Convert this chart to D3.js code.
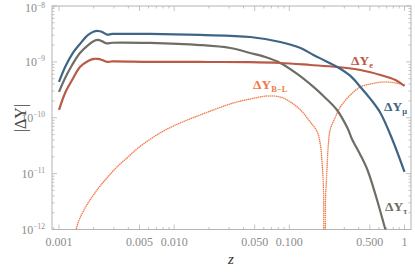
<!DOCTYPE html>
<html><head><meta charset="utf-8">
<script src="https://cdn.jsdelivr.net/npm/d3@7"></script>
<style>body{margin:0;background:#fff}</style>
</head><body>
<svg id="c" width="415" height="272"></svg>
<script>
// ---- data ----
const zMu  = [0.001,0.00113,0.0013,0.00152,0.00179,0.00201,0.00218,0.00237,0.00261,0.00289,0.00339,0.00618,0.0168,0.0458,0.0835,0.125,0.162,0.206,0.261,0.339,0.414,0.506,0.618,0.787,1.0];
const yMu  = [4.37e-10,8.1e-10,1.38e-9,2.09e-9,3.03e-9,3.5e-9,3.57e-9,3.43e-9,3.08e-9,3.16e-9,3.16e-9,3.16e-9,3.03e-9,2.79e-9,2.27e-9,1.77e-9,1.33e-9,1.04e-9,8.1e-10,5.6e-10,3.56e-10,2.17e-10,1.22e-10,4.0e-11,1.07e-11];
const zTau = [0.001,0.00113,0.0013,0.00152,0.00179,0.00201,0.00218,0.00237,0.00261,0.00289,0.00618,0.0168,0.0307,0.0458,0.0618,0.0835,0.117,0.162,0.206,0.261,0.319,0.353,0.414,0.477,0.571,0.684,0.726];
const yTau = [2.9e-10,5.15e-10,8.8e-10,1.44e-9,2.0e-9,2.37e-9,2.47e-9,2.33e-9,2.14e-9,2.2e-9,2.18e-9,2.0e-9,1.77e-9,1.44e-9,1.22e-9,9.55e-10,6.08e-10,3.56e-10,2.26e-10,1.35e-10,6.6e-11,4.0e-11,2.16e-11,1.16e-11,3.67e-12,9.8e-13,6.5e-13];
const zE   = [0.001,0.00113,0.0013,0.00152,0.00179,0.00201,0.00218,0.00237,0.00261,0.00289,0.00618,0.0168,0.0458,0.0835,0.152,0.261,0.414,0.618,0.835,1.0];
const yE   = [1.38e-10,2.78e-10,4.74e-10,8.1e-10,1.04e-9,1.13e-9,1.13e-9,1.08e-9,1.0e-9,1.02e-9,1.0e-9,9.96e-10,9.9e-10,9.55e-10,8.8e-10,8.1e-10,7.16e-10,5.83e-10,4.74e-10,3.7e-10];
const zBL  = [0.00138,0.00141,0.00152,0.00179,0.00214,0.00261,0.00319,0.00398,0.00486,0.00755,0.01128,0.0168,0.0326,0.0458,0.0644,0.0835,0.102,0.125,0.152,0.175,0.186,0.193,0.198,0.2015,0.2025,0.206,0.210,0.214,0.218,0.226,0.251,0.277,0.339,0.414,0.506,0.657,0.835,1.0];
const yBL  = [7e-13,1.0e-12,1.61e-12,2.99e-12,5.1e-12,8.4e-12,1.32e-11,1.99e-11,2.88e-11,5.35e-11,8.07e-11,1.12e-10,1.84e-10,2.17e-10,2.45e-10,2.35e-10,1.92e-10,1.38e-10,8.4e-11,5.57e-11,3.26e-11,1.43e-11,5.1e-12,1e-13,1e-13,3.5e-12,7.7e-12,1.76e-11,3.26e-11,6.05e-11,1.03e-10,1.56e-10,2.56e-10,3.56e-10,4.02e-10,4.37e-10,4.2e-10,3.86e-10];
const xMajor = [0.001,0.005,0.01,0.05,0.1,0.5,1];
const xMajorLabels = ["0.001","0.005","0.010","0.050","0.100","0.500","1"];
const yMajor = [1e-12,1e-11,1e-10,1e-9,1e-8];
const yMajorExp = ["-12","-11","-10","-9","-8"];

// ---- layout ----
const L=52,R=411,T=6,B=229.5;
const x=d3.scaleLog().domain([Math.pow(10,-3.0608),Math.pow(10,0.0564)]).range([L,R]);
const y=d3.scaleLog().domain([1e-12,1e-8]).range([B,T]);
const svg=d3.select("#c");
const axCol="#b4b4b4", txtCol="#8c8c8c";
const serif="'Liberation Serif','DejaVu Serif',serif";

svg.append("defs").append("clipPath").attr("id","clip")
  .append("rect").attr("x",L).attr("y",T).attr("width",R-L).attr("height",B-T);

// frame
svg.append("rect").attr("x",L).attr("y",T).attr("width",R-L).attr("height",B-T)
  .attr("fill","none").attr("stroke",axCol).attr("stroke-width",1);

// minor ticks
const xMinor=[];
for(let d=-4;d<=0;d++)for(let k=1;k<=9;k++){const v=k*Math.pow(10,d);
  if(v>=x.domain()[0]&&v<=x.domain()[1]&&!xMajor.some(m=>Math.abs(m-v)/v<1e-6))xMinor.push(v);}
const yMinor=[];
for(let d=-12;d<=-9;d++)for(let k=2;k<=9;k++)yMinor.push(k*Math.pow(10,d));

const tk=svg.append("g").attr("stroke",axCol).attr("stroke-width",0.8);
function xt(vals,len){vals.forEach(v=>{const px=x(v);
  tk.append("line").attr("x1",px).attr("x2",px).attr("y1",B).attr("y2",B-len);
  tk.append("line").attr("x1",px).attr("x2",px).attr("y1",T).attr("y2",T+len);});}
function yt(vals,len){vals.forEach(v=>{const py=y(v);
  tk.append("line").attr("y1",py).attr("y2",py).attr("x1",L).attr("x2",L+len);
  tk.append("line").attr("y1",py).attr("y2",py).attr("x1",R).attr("x2",R-len);});}
xt(xMinor,2.5); xt(xMajor,5); yt(yMinor,2.5); yt(yMajor,5);

// tick labels
xMajor.forEach((v,i)=>{
  svg.append("text").attr("x",x(v)).attr("y",246).attr("text-anchor","middle")
   .attr("font-family",serif).attr("font-size",12).attr("fill",txtCol).text(xMajorLabels[i]);
});
yMajor.forEach((v,i)=>{
  const t=svg.append("text").attr("x",45).attr("y",Math.max(y(v)+4,12)).attr("text-anchor","end")
   .attr("font-family",serif).attr("font-size",12).attr("fill",txtCol);
  t.append("tspan").text("10");
  t.append("tspan").attr("dy",-4.5).attr("font-size",7.5).text(yMajorExp[i].replace("-","\u2212"));
});

// axis titles
svg.append("text").attr("transform","translate(26,118) rotate(-90)").attr("text-anchor","middle")
  .attr("font-family",serif).attr("font-size",16).attr("fill","#444").text("|\u0394Y|");
svg.append("text").attr("x",231).attr("y",264).attr("text-anchor","middle")
  .attr("font-family",serif).attr("font-style","italic").attr("font-size",15).attr("fill","#333").text("z");

// curves
const line=d3.line().x(d=>x(d[0])).y(d=>y(d[1])).curve(d3.curveCatmullRom.alpha(0.5));
const g=svg.append("g").attr("clip-path","url(#clip)");
function draw(zs,ys,col,w,dash){
  g.append("path").datum(zs.map((z,i)=>[z,ys[i]])).attr("d",line)
   .attr("fill","none").attr("stroke",col).attr("stroke-width",w)
   .attr("stroke-dasharray",dash||null).attr("stroke-linecap",dash?"round":"butt");
}
const cMu="#3e6586", cTau="#6f6e66", cE="#b95a46", cBL="#f17a48";
draw(zBL,yBL,cBL,1.5,"0.1,1.9");
draw(zTau,yTau,cTau,2.2);
draw(zE,yE,cE,2.2);
draw(zMu,yMu,cMu,2.2);

// labels
function lab(px,py,sub,col){
  const t=svg.append("text").attr("x",px).attr("y",py).attr("font-family",serif)
    .attr("font-weight","bold").attr("font-size",13.5).attr("fill",col);
  t.append("tspan").text("\u0394Y");
  t.append("tspan").attr("dy",2.5).attr("font-size",8.5).text(sub);
}
lab(351,65,"e",cE);
lab(384,111,"\u03BC",cMu);
lab(385,211,"\u03C4",cTau);
lab(253,89,"B\u2212L",cBL);
</script>
</body></html>
